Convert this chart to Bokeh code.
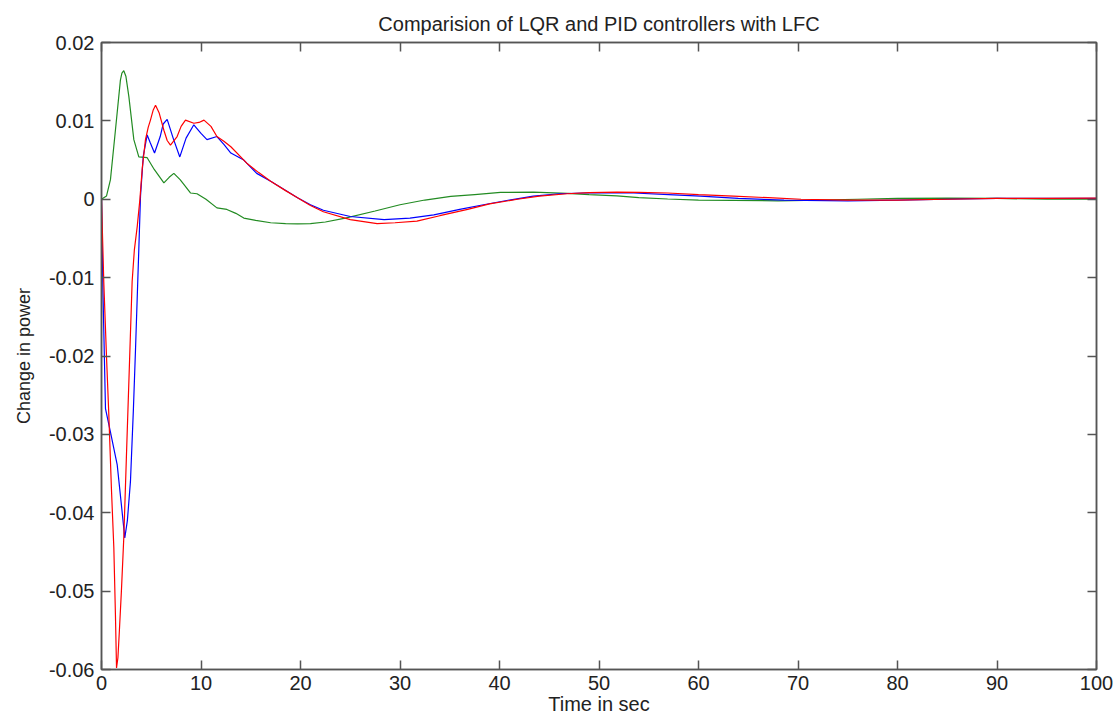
from bokeh.plotting import figure
from bokeh.models import Range1d, FixedTicker, LinearAxis, CustomJSTickFormatter
from bokeh.embed import file_html
from bokeh.resources import INLINE

# ---- data ----
red_t = [0, 0.23, 0.5, 0.74, 1.0, 1.24, 1.4, 1.51, 1.65, 1.8, 2.0, 2.24, 2.5, 2.75, 3.08, 3.3, 3.59,
         3.86, 4.1, 4.42, 4.7, 4.92, 5.2, 5.43, 5.8, 6.27, 6.6, 6.93, 7.6, 8.0, 8.44, 9.28, 9.8, 10.3,
         11.0, 11.6, 12.3, 13.0, 14.6, 15.8, 17.0, 18.5, 19.7, 21.0, 22.3, 25.0, 27.7, 29.5, 31.7, 34.0,
         36.8, 39.0, 41.8, 44.0, 46.8, 49.0, 51.8, 54.0, 56.9, 60.0, 63.5, 67.0, 70.3,
         75, 80, 85, 90, 95, 100]
red_v = [0, -0.0106, -0.020, -0.0276, -0.037, -0.0445, -0.0530, -0.0598, -0.0585, -0.055, -0.050,
         -0.0432, -0.033, -0.0233, -0.0105, -0.0065, -0.0035, 0.0, 0.0040, 0.0076, 0.0092, 0.0101,
         0.0114, 0.0120, 0.0110, 0.0088, 0.0075, 0.0069, 0.0080, 0.0093, 0.0101, 0.0097, 0.0098,
         0.0101, 0.0093, 0.0080, 0.0074, 0.0067, 0.0046, 0.0034, 0.0023, 0.0011, 0.0002, -0.0008,
         -0.0016, -0.0026, -0.0031, -0.0030, -0.0028, -0.0021, -0.0013, -0.0006, 0.0, 0.0004,
         0.0007, 0.00085, 0.00091, 0.00088, 0.0008, 0.0006, 0.0004, 0.0002, 0.0, -0.0001, -0.0001,
         0.0, 0.0001, 0.00012, 0.00015]

blue_t = [0, 0.15, 0.4, 0.9, 1.58, 2.0, 2.34, 2.6, 2.91, 3.2, 3.42, 3.75, 3.92, 4.2, 4.59,
          4.9, 5.33, 5.9, 6.2, 6.6, 7.2, 7.87, 8.5, 9.28, 10.0, 10.6, 11.6, 12.3, 13.0, 14.3,
          15.6, 17.0, 18.4, 19.7, 21, 22.3, 25, 28.4, 31, 33.4, 36, 38.4, 41, 43.4, 46,
          48.4, 51, 53.5, 57, 60.2, 64, 68.6, 75, 80, 85, 90, 95, 100]
blue_v = [0, -0.012, -0.0267, -0.0297, -0.0339, -0.039, -0.0432, -0.041, -0.036, -0.027,
          -0.0191, -0.0064, 0.0004, 0.0055, 0.0082, 0.0072, 0.0059, 0.0080, 0.0096, 0.0102, 0.0078,
          0.0054, 0.0078, 0.0095, 0.0084, 0.0076, 0.0080, 0.0070, 0.0059, 0.0050, 0.0033,
          0.0023, 0.0012, 0.0002, -0.0007, -0.0014, -0.0022, -0.0026, -0.0024, -0.0020,
          -0.0013, -0.0007, -0.0001, 0.0004, 0.0007, 0.0008, 0.00085, 0.0008, 0.0006,
          0.0004, 0.0001, -0.0001, -0.0002, -0.0001, 0.0, 0.0001, 0.0001, 0.0001]

green_t = [0, 0.5, 0.9, 1.4, 1.9, 2.05, 2.24, 2.45, 2.75, 3.25, 3.75, 4.59, 5.3, 6.27, 6.8, 7.27, 7.9,
           8.94, 9.6, 10.5, 11.6, 12.6, 13.5, 14.3, 15.5, 17.0, 18.5, 19.7, 21, 22.5, 24.5,
           27.5, 30, 32.5, 35.1, 37.5, 40.1, 43.4, 46.8, 49, 51.8, 54, 56.9, 60, 63.5, 68,
           72, 76, 80, 85, 90, 95, 100]
green_v = [0, 0.0004, 0.0025, 0.0088, 0.0152, 0.0161, 0.0164, 0.0157, 0.0131, 0.0076, 0.0054, 0.0053,
           0.0038, 0.0021, 0.0028, 0.0033, 0.0025, 0.0008, 0.0007, 0.0, -0.0011, -0.0013,
           -0.0018, -0.0024, -0.0027, -0.0030, -0.0031, -0.00315, -0.0031, -0.0029,
           -0.0024, -0.0015, -0.0007, -0.0001, 0.00036, 0.0006, 0.00087, 0.00091, 0.00076,
           0.0006, 0.00044, 0.0002, 0.00003, -0.0001, -0.00015, -0.0002, -0.0001, 0.0,
           0.0001, 0.00015, 0.0001, 0.0, 0.0]

x_ticks = [0, 10, 20, 30, 40, 50, 60, 70, 80, 90, 100]
y_ticks = [-0.06, -0.05, -0.04, -0.03, -0.02, -0.01, 0, 0.01, 0.02]

title_text = "Comparision of LQR and PID controllers with LFC"
x_label = "Time in sec"
y_label = "Change in power"

FONT = "Liberation Sans"
AX = "#555555"
TXT = "#222222"

p = figure(width=1118, height=717, output_backend="svg", toolbar_location=None,
           x_range=Range1d(0, 100), y_range=Range1d(-0.06, 0.02),
           min_border_left=101, min_border_right=22, min_border_top=42, min_border_bottom=45,
           title=title_text)
p.title.align = "center"
p.title.text_font = FONT
p.title.text_font_size = "20px"
p.title.text_font_style = "normal"
p.title.text_color = TXT
p.title.standoff = 16

p.grid.visible = False
p.outline_line_color = AX
p.outline_line_width = 1.5
p.background_fill_color = "white"
p.border_fill_color = "white"

bottom = p.below[0]
left = p.left[0]

bottom.ticker = FixedTicker(ticks=x_ticks)
bottom.formatter = CustomJSTickFormatter(code="return tick.toFixed(0);")
bottom.axis_label = x_label
left.ticker = FixedTicker(ticks=y_ticks)
left.formatter = CustomJSTickFormatter(code="return Math.abs(tick) < 1e-12 ? '0' : tick.toFixed(2);")
left.axis_label = y_label

blank = CustomJSTickFormatter(code="return '';")
top = LinearAxis(ticker=FixedTicker(ticks=x_ticks), formatter=blank)
right = LinearAxis(ticker=FixedTicker(ticks=y_ticks), formatter=blank)
p.add_layout(top, "above")
p.add_layout(right, "right")

for ax in [bottom, left, top, right]:
    ax.axis_line_color = AX
    ax.axis_line_width = 1.5
    ax.major_tick_line_color = AX
    ax.major_tick_line_width = 1.5
    ax.major_tick_in = 9
    ax.major_tick_out = 0
    ax.minor_tick_line_color = None
    ax.major_label_text_font = FONT
    ax.major_label_text_color = TXT
    ax.axis_label_text_font = FONT
    ax.axis_label_text_color = TXT
    ax.axis_label_text_font_style = "normal"

for ax in [top, right]:
    ax.major_label_standoff = 0
    ax.major_label_text_font_size = "1px"

bottom.major_label_text_font_size = "20px"
bottom.major_label_standoff = 6
bottom.axis_label_text_font_size = "20px"
bottom.axis_label_standoff = 0
left.major_label_text_font_size = "20px"
left.major_label_standoff = 7
left.axis_label_text_font_size = "18px"
left.axis_label_standoff = 12

p.line(green_t, green_v, line_color="#228b22", line_width=1.2)
p.line(blue_t, blue_v, line_color="#0000ff", line_width=1.2)
p.line(red_t, red_v, line_color="#ff0000", line_width=1.2)

open("out.html", "w").write(file_html(p, INLINE))
